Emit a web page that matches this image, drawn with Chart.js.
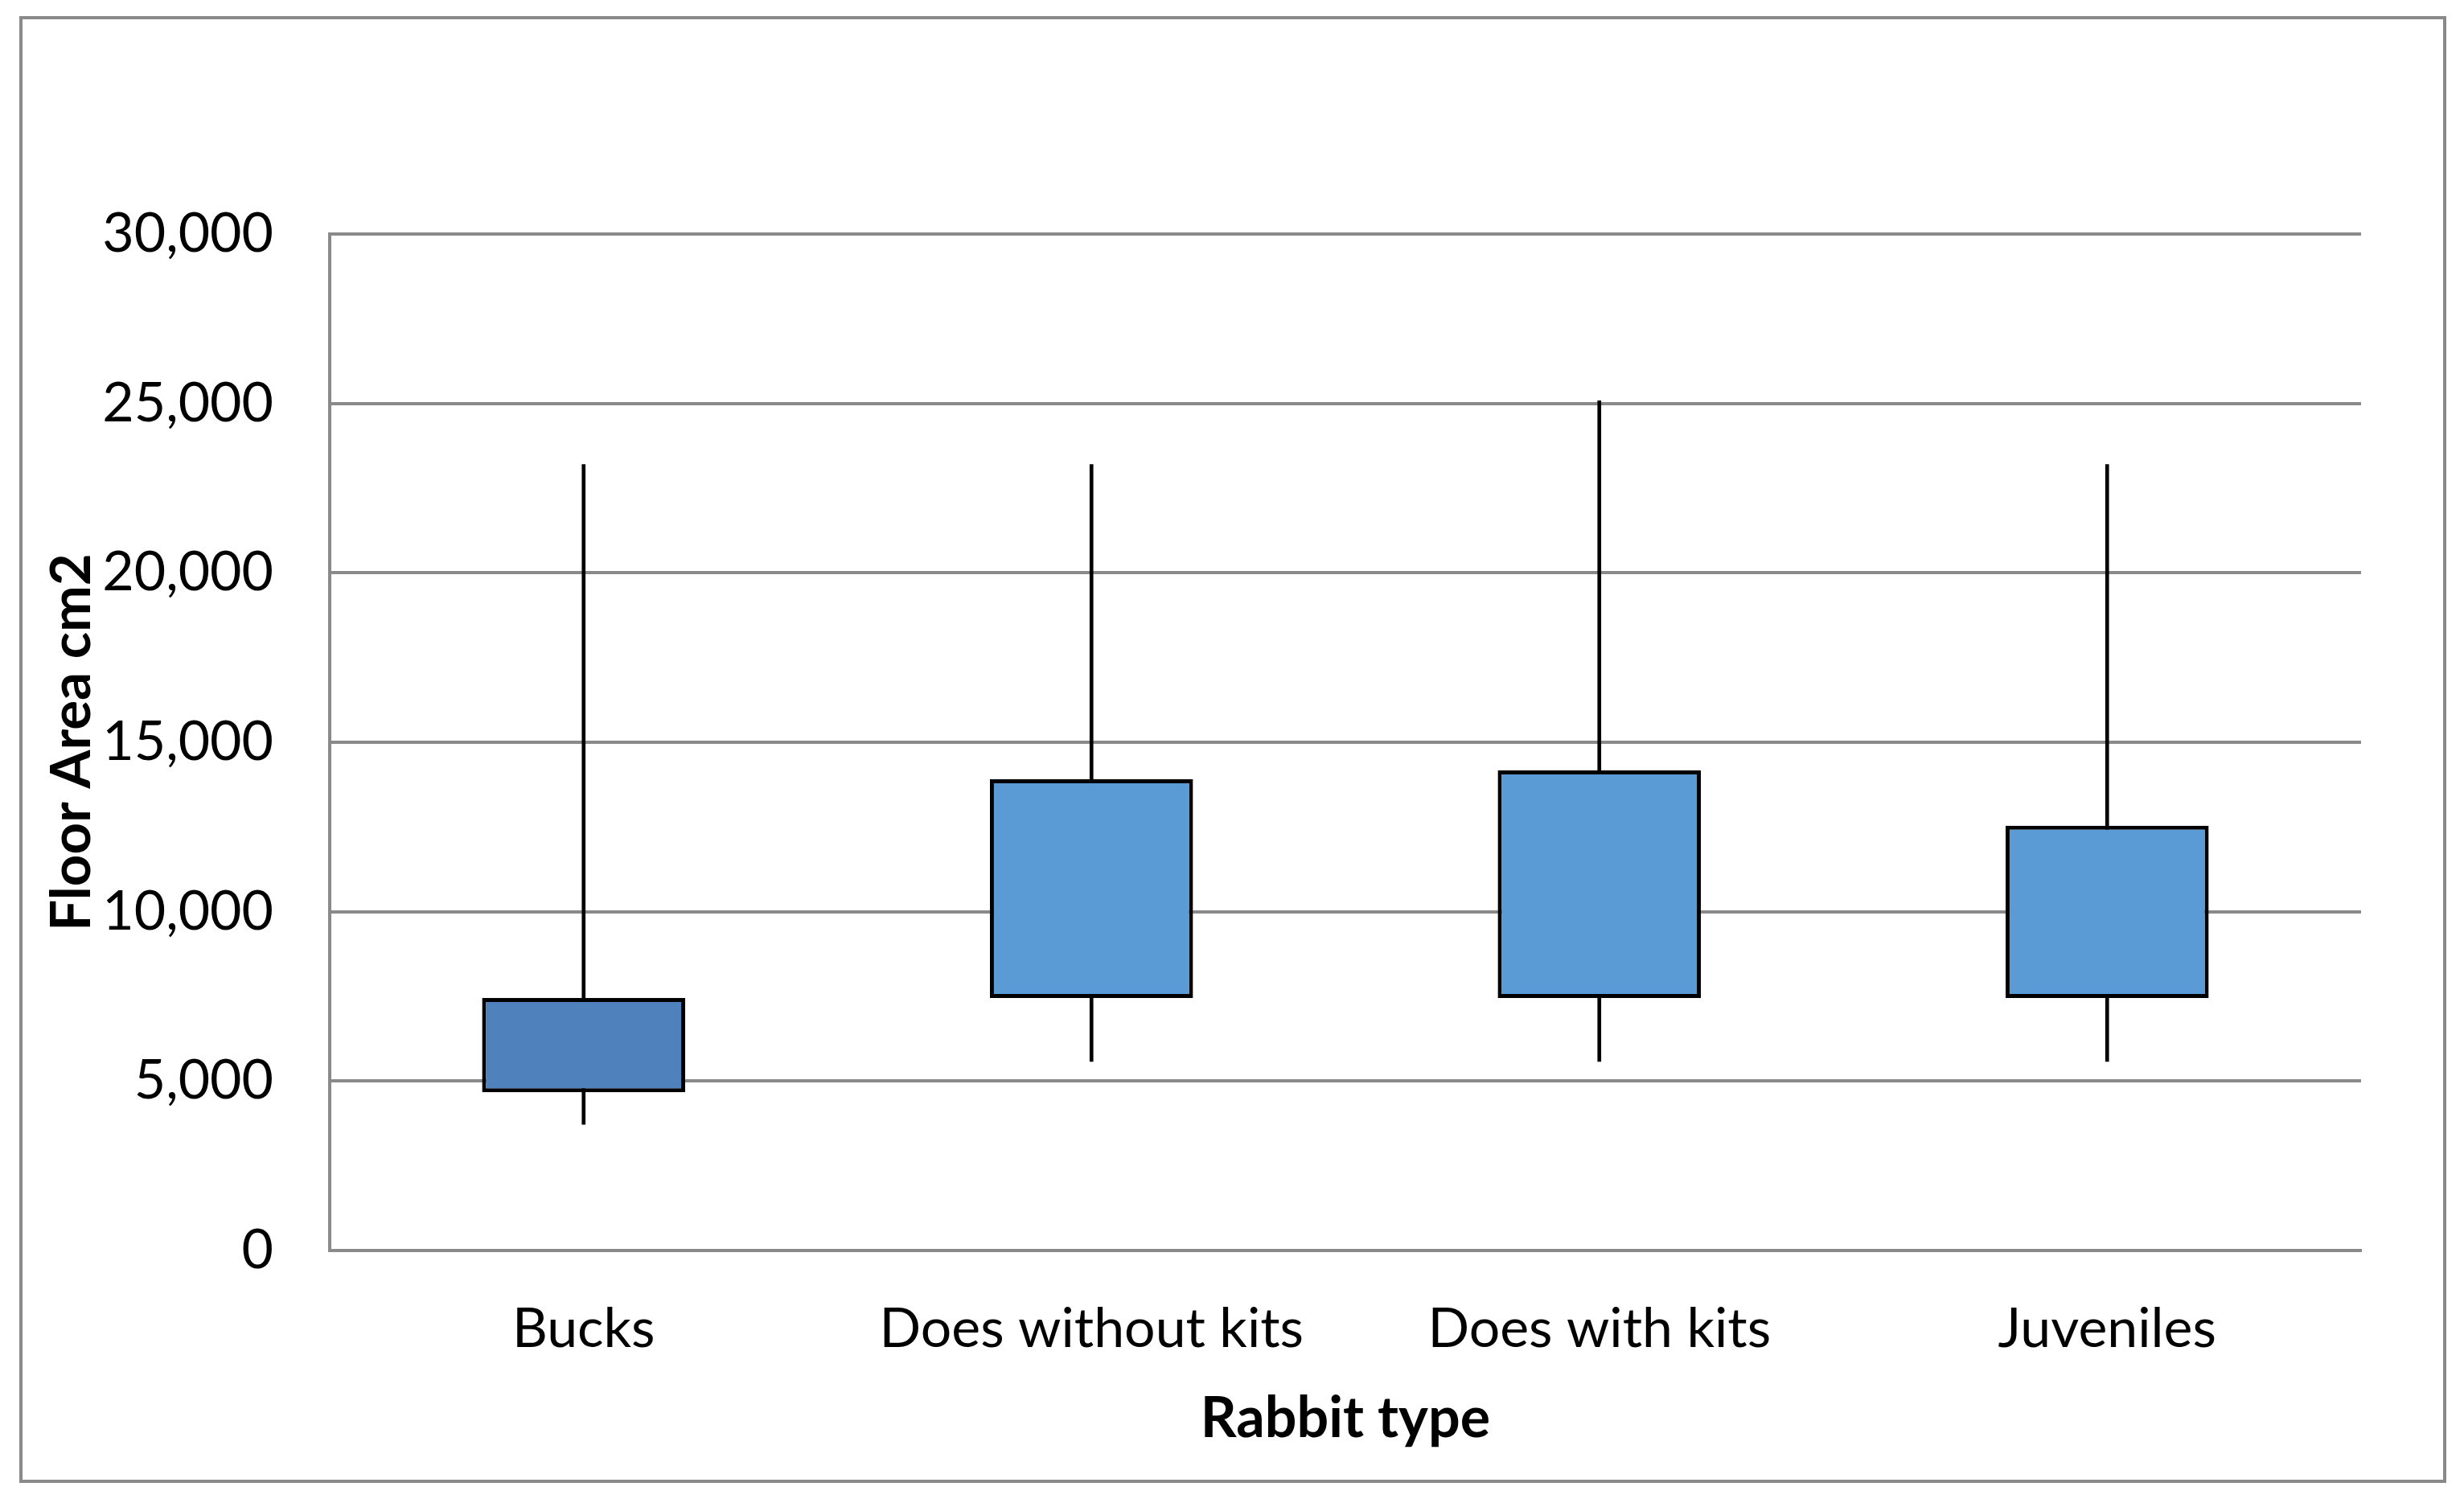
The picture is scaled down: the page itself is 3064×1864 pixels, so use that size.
<!DOCTYPE html>
<html>
<head>
<meta charset="utf-8">
<script src="https://cdn.jsdelivr.net/npm/chart.js@4.4.1/dist/chart.umd.min.js"></script>
<style>
  html, body { margin: 0; padding: 0; background: #fff; }
  #wrap { position: relative; width: 3064px; height: 1864px; }
  #frame { position: absolute; left: 24px; top: 20px; width: 3010px; height: 1816px; border: 4px solid #8a8a8a; }
  canvas { position: absolute; left: 0; top: 0; }
</style>
</head>
<body>
<div id="wrap">
  <div id="frame"></div>
  <canvas id="boxChart" width="3064" height="1864"></canvas>
</div>
<script>
const categories = ['Bucks', 'Does without kits', 'Does with kits', 'Juveniles'];
const minValues = [3720, 5580, 5580, 5580];
const q1Values = [4670, 7450, 7450, 7450];
const q3Values = [7450, 13910, 14170, 12540];
const maxValues = [23200, 23200, 25080, 23200];
const boxColors = ['#4F81BD', '#5B9BD5', '#5B9BD5', '#5B9BD5'];
const yTicks = [0, 5000, 10000, 15000, 20000, 25000, 30000];

const gridGray = '#8a8a8a';
const fontFamily = 'Lato, "Open Sans", sans-serif';

const whiskers = categories.map((c, i) => [minValues[i], maxValues[i]]);
const boxes = categories.map((c, i) => [q1Values[i], q3Values[i]]);

const ctx = document.getElementById('boxChart').getContext('2d');
new Chart(ctx, {
  type: 'bar',
  data: {
    labels: categories,
    datasets: [
      {
        label: 'Range',
        data: whiskers,
        backgroundColor: '#000',
        borderWidth: 0,
        barThickness: 4,
        grouped: false,
        order: 2
      },
      {
        label: 'Box',
        data: boxes,
        backgroundColor: boxColors,
        borderColor: '#000',
        borderWidth: 5,
        borderSkipped: false,
        barPercentage: 0.4,
        categoryPercentage: 1,
        grouped: false,
        order: 1
      }
    ]
  },
  options: {
    responsive: false,
    animation: false,
    devicePixelRatio: 1,
    layout: { padding: { top: 291, right: 128, bottom: 0, left: 0 } },
    plugins: { legend: { display: false }, tooltip: { enabled: false } },
    scales: {
      x: {
        grid: { display: false },
        border: { display: true, color: gridGray, width: 4 },
        ticks: { color: '#000', padding: 49, font: { family: fontFamily, size: 68 } },
        title: {
          display: true,
          text: 'Rabbit type',
          color: '#000',
          font: { family: fontFamily, size: 70, weight: 'bold' },
          padding: { top: 0, bottom: 58 }
        },
        afterFit: (scale) => { scale.height = 309; }
      },
      y: {
        min: 0,
        max: 30000,
        afterBuildTicks: (scale) => { scale.ticks = yTicks.map(v => ({ value: v })); },
        grid: { color: gridGray, lineWidth: 4, drawTicks: false },
        border: { display: true, color: gridGray, width: 4 },
        ticks: {
          color: '#000',
          padding: 70,
          font: { family: fontFamily, size: 68 },
          callback: (v) => v.toLocaleString('en-US')
        },
        title: {
          display: true,
          text: 'Floor Area cm2',
          color: '#000',
          font: { family: fontFamily, size: 69, weight: 'bold' },
          padding: { top: 48, bottom: 0 }
        },
        afterFit: (scale) => { scale.width = 410; }
      }
    }
  }
});
</script>
</body>
</html>
